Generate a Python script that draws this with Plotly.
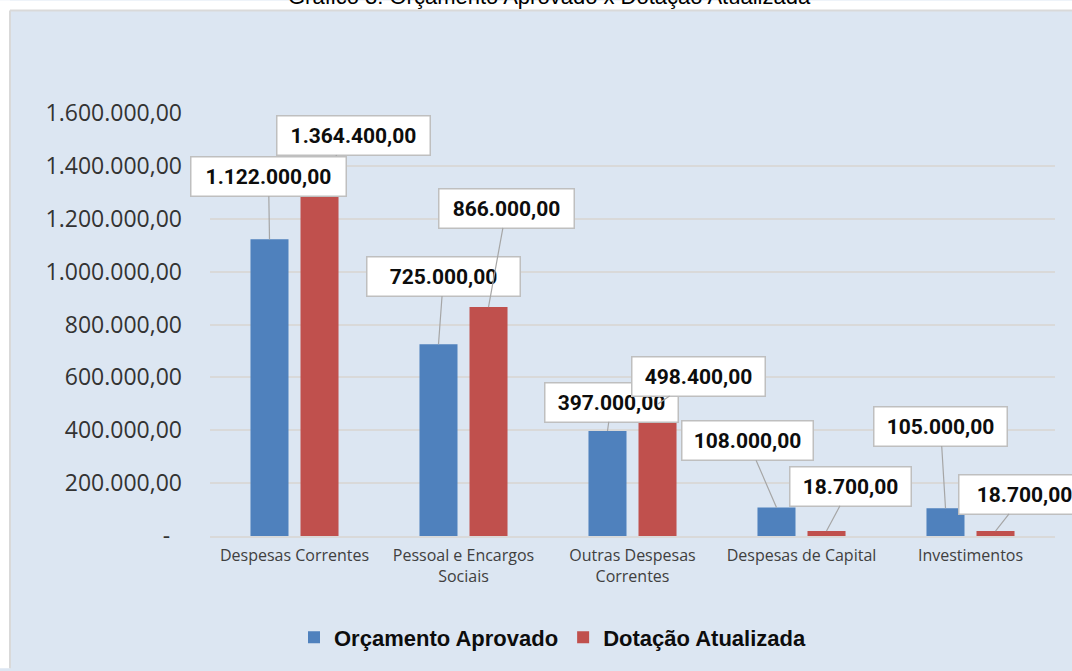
"""Gráfico 3: Orçamento Aprovado x Dotação Atualizada — grouped bars with callout labels."""

import plotly.graph_objects as go

# ─── Data ────────────────────────────────────────────────────────────────────

CATEGORIAS = [
    "Despesas Correntes",
    "Pessoal e Encargos<br>Sociais",
    "Outras Despesas<br>Correntes",
    "Despesas de Capital",
    "Investimentos",
]
ORCAMENTO_APROVADO = [1122000.00, 725000.00, 397000.00, 108000.00, 105000.00]
DOTACAO_ATUALIZADA = [1364400.00, 866000.00, 498400.00, 18700.00, 18700.00]

Y_TICKS = [0, 200000, 400000, 600000, 800000, 1000000, 1200000, 1400000, 1600000]
Y_TICK_TEXT = [
    "-\u00a0\u00a0", "200.000,00", "400.000,00", "600.000,00", "800.000,00",
    "1.000.000,00", "1.200.000,00", "1.400.000,00", "1.600.000,00",
]

TITULO = "Gráfico 3: Orçamento Aprovado x Dotação Atualizada"

# ─── Theme / layout constants ────────────────────────────────────────────────

BLUE = "#4f81bd"
RED = "#c0504d"
BG = "#dce6f2"
GRID = "#d9d9d9"
W, H = 1072, 671
MARGIN = dict(l=210, r=17, t=113, b=133)
PLOT_W = W - MARGIN["l"] - MARGIN["r"]
PLOT_H = H - MARGIN["t"] - MARGIN["b"]
GROUP_SHIFT = 25  # px from category centre to each bar centre

# callout offsets (ax, ay) in px from the bar top, and box widths
OFFSETS_ORC = [(-1, -63), (5, -68), (4, -29), (-29, -67), (-5, -82)]
OFFSETS_DOT = [(34, -40), (18, -99), (41, -28), (24, -45), (29, -37)]
WIDTHS_ORC = [152, 150, 130, 128, 130]
WIDTHS_DOT = [150, 132, 130, 118, 128]


def px_x(px: float) -> float:
    return (px - MARGIN["l"]) / PLOT_W


def px_y(py: float) -> float:
    return (H - MARGIN["b"] - py) / PLOT_H


def br(v: float) -> str:
    s = f"{v:,.2f}"
    return s.replace(",", "X").replace(".", ",").replace("X", ".")


# ─── Figure ──────────────────────────────────────────────────────────────────

fig = go.Figure()
fig.add_trace(go.Bar(
    x=CATEGORIAS, y=ORCAMENTO_APROVADO, name="Orçamento Aprovado",
    marker=dict(color=BLUE, line=dict(width=0)),
))
fig.add_trace(go.Bar(
    x=CATEGORIAS, y=DOTACAO_ATUALIZADA, name="Dotação Atualizada",
    marker=dict(color=RED, line=dict(width=0)),
))


def callout(cat, val, shift, off, width):
    return dict(
        x=cat, y=val, xref="x", yref="y", xshift=shift,
        ax=off[0], ay=off[1],
        text=br(val), showarrow=True, arrowhead=0, arrowwidth=1.2,
        arrowcolor="#a6a6a6", standoff=0,
        bgcolor="white", bordercolor="#bfbfbf", borderwidth=1.5,
        width=width, height=36, align="center",
        font=dict(family="Roboto", size=21, color="#0d0d0d", weight="bold"),
    )


annotations = []
for i, cat in enumerate(CATEGORIAS):
    a = callout(cat, ORCAMENTO_APROVADO[i], -GROUP_SHIFT, OFFSETS_ORC[i], WIDTHS_ORC[i])
    d = callout(cat, DOTACAO_ATUALIZADA[i], GROUP_SHIFT, OFFSETS_DOT[i], WIDTHS_DOT[i])
    annotations += [d, a] if i == 0 else [a, d]

annotations.append(dict(
    text=TITULO, x=px_x(549), y=px_y(11), xref="paper", yref="paper",
    xanchor="center", yanchor="bottom", showarrow=False,
    font=dict(family="Liberation Sans", size=22, color="black"),
))

shapes = [
    # white page margin around the chart frame
    dict(type="rect", xref="paper", yref="paper", x0=px_x(0), x1=px_x(10),
         y0=px_y(H), y1=px_y(0), fillcolor="white", line=dict(width=0), layer="below"),
    dict(type="rect", xref="paper", yref="paper", x0=px_x(0), x1=px_x(W),
         y0=px_y(10), y1=px_y(0), fillcolor="white", line=dict(width=0), layer="below"),
    # frame border
    dict(type="line", xref="paper", yref="paper", x0=px_x(10), x1=px_x(10),
         y0=px_y(H), y1=px_y(10), line=dict(color=GRID, width=2), layer="below"),
    dict(type="line", xref="paper", yref="paper", x0=px_x(10), x1=px_x(W),
         y0=px_y(10), y1=px_y(10), line=dict(color=GRID, width=2), layer="below"),
]

fig.update_layout(
    width=W, height=H,
    margin=MARGIN,
    paper_bgcolor=BG, plot_bgcolor=BG,
    barmode="group", bargap=0.408, bargroupgap=0.24,
    annotations=annotations,
    shapes=shapes,
    xaxis=dict(
        range=[-0.5, 4.5], automargin=False,
        showgrid=False, showline=True, linecolor=GRID, linewidth=2,
        tickfont=dict(family="Open Sans", size=16, color="#404040"),
        ticklabelstandoff=4, tickangle=0,
    ),
    yaxis=dict(
        range=[0, 1600000], tickvals=Y_TICKS, ticktext=Y_TICK_TEXT, automargin=False,
        showgrid=True, gridcolor=GRID, gridwidth=1.5, zeroline=False,
        tickfont=dict(family="Open Sans", size=23, color="#333333"),
        ticklabelstandoff=27,
    ),
    legend=dict(
        orientation="h", x=px_x(553), xanchor="center",
        y=px_y(640), yanchor="middle",
        font=dict(family="Liberation Sans", size=22, color="#0d0d0d", weight="bold"),
        bgcolor="rgba(0,0,0,0)",
    ),
    showlegend=True,
)

# page body margin off so the chart sits at the window's top-left corner
fig.write_html(
    "out.html",
    config={"displayModeBar": False},
    post_script="document.body.style.margin = '0';",
)
